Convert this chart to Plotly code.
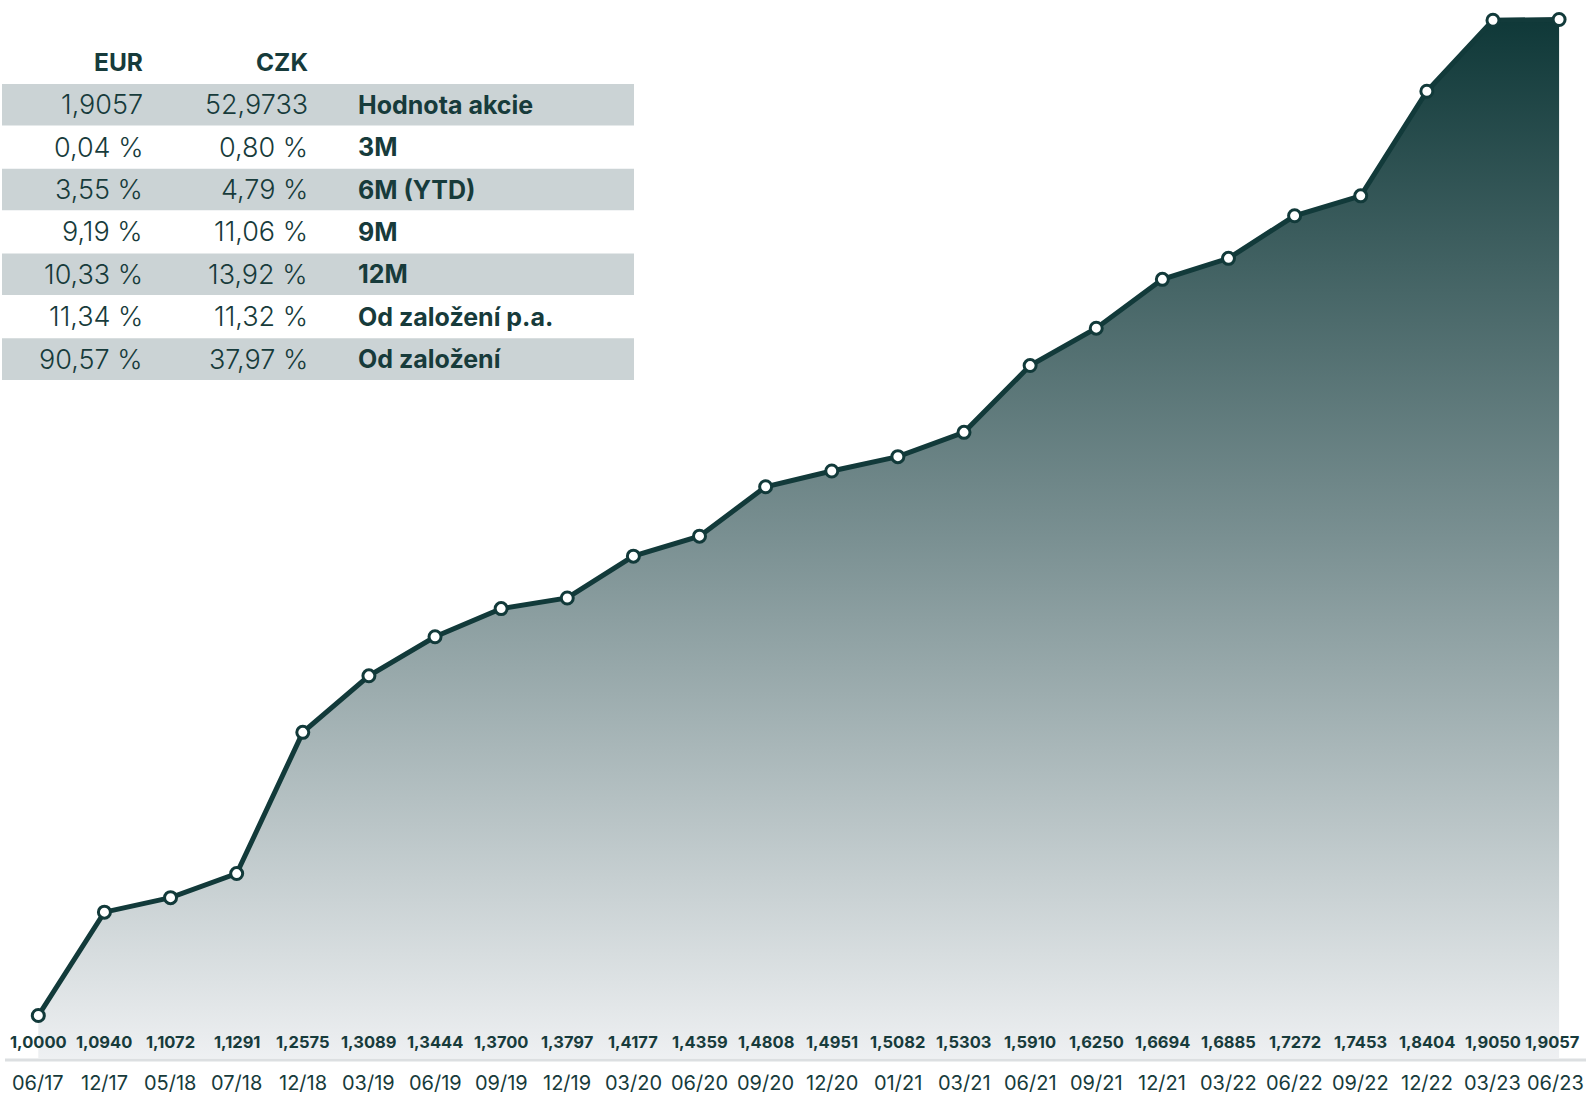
import plotly.graph_objects as go

# ---- data ----
dates = ["06/17", "12/17", "05/18", "07/18", "12/18", "03/19", "06/19", "09/19",
         "12/19", "03/20", "06/20", "09/20", "12/20", "01/21", "03/21", "06/21",
         "09/21", "12/21", "03/22", "06/22", "09/22", "12/22", "03/23", "06/23"]
values = [1.0000, 1.0940, 1.1072, 1.1291, 1.2575, 1.3089, 1.3444, 1.3700,
          1.3797, 1.4177, 1.4359, 1.4808, 1.4951, 1.5082, 1.5303, 1.5910,
          1.6250, 1.6694, 1.6885, 1.7272, 1.7453, 1.8404, 1.9050, 1.9057]

table_header = ["EUR", "CZK", ""]
table_eur = ["1,9057", "0,04 %", "3,55 %", "9,19 %", "10,33 %", "11,34 %", "90,57 %"]
table_czk = ["52,9733", "0,80 %", "4,79 %", "11,06 %", "13,92 %", "11,32 %", "37,97 %"]
table_labels = ["Hodnota akcie", "3M", "6M (YTD)", "9M", "12M",
                "Od založení p.a.", "Od založení"]

# ---- styling ----
W, H = 1586, 1094
MB = 36                      # bottom margin (plot area height = H - MB)
PH = H - MB
DARK = "#123a3a"
TEXT = "#173b3b"
BAND = "#cbd3d5"
FONT = "Inter"

x_idx = list(range(len(values)))
YMAX = 1.9234
YMIN = 0.9614


def py(p):
    """pixel (from top) -> paper y"""
    return (PH - p) / PH


fig = go.Figure()
fig.add_trace(go.Scatter(
    x=x_idx, y=values, mode="lines+markers",
    line=dict(color=DARK, width=5),
    marker=dict(size=12, color="white", line=dict(color=DARK, width=3)),
    fill="tozeroy",
    fillgradient=dict(type="vertical",
                      colorscale=[[0, "#eef0f2"], [0.5, "#7a9092"], [1, "#0f3838"]],
                      start=YMIN, stop=max(values)),
    cliponaxis=False, hoverinfo="skip", showlegend=False,
))

annotations = []
# value labels and date labels
last = len(values) - 1
for i, (d, v) in enumerate(zip(dates, values)):
    annotations.append(dict(x=i, y=py(1041.5), xref="x", yref="paper",
                            text=f"{v:.4f}".replace(".", ","), showarrow=False,
                            xanchor="center", yanchor="middle", xshift=-7 if i == last else 0,
                            font=dict(family=FONT, size=16.5, color=TEXT, weight="bold")))
    annotations.append(dict(x=i, y=py(1094), xref="x", yref="paper", yshift=-3,
                            xshift=-4 if i == last else 0,
                            text=d, showarrow=False, xanchor="center", yanchor="bottom",
                            font=dict(family=FONT, size=20, color=TEXT)))

shapes = []
# axis baseline
shapes.append(dict(type="line", xref="paper", yref="paper",
                   x0=5 / W, x1=1, y0=py(1060), y1=py(1060),
                   line=dict(color="#dcdfe1", width=3), layer="above"))

# table
ROW0 = 104.7
RS = 42.4
col_eur = 145 / W
col_czk = 310 / W
col_lab = 356 / W
hdr_y = py(ROW0 - RS)
for txt, cx in zip(table_header[:2], [col_eur, col_czk]):
    annotations.append(dict(x=cx, y=hdr_y, xref="paper", yref="paper", text=txt,
                            showarrow=False, xanchor="right", yanchor="middle",
                            font=dict(family=FONT, size=24.5, color=TEXT, weight="bold")))
for k, (e, c, lab) in enumerate(zip(table_eur, table_czk, table_labels)):
    cy = ROW0 + RS * k
    if k % 2 == 0:
        shapes.append(dict(type="rect", xref="paper", yref="paper",
                           x0=2 / W, x1=634 / W, y0=py(cy - 20.8), y1=py(cy + 20.8),
                           fillcolor=BAND, line=dict(width=0), layer="below"))
    annotations.append(dict(x=col_eur, y=py(cy), xref="paper", yref="paper", text=e,
                            showarrow=False, xanchor="right", yanchor="middle",
                            font=dict(family=FONT, size=27, color=TEXT, weight=300)))
    annotations.append(dict(x=col_czk, y=py(cy), xref="paper", yref="paper", text=c,
                            showarrow=False, xanchor="right", yanchor="middle",
                            font=dict(family=FONT, size=27, color=TEXT, weight=300)))
    annotations.append(dict(x=col_lab, y=py(cy), xref="paper", yref="paper", text=lab,
                            showarrow=False, xanchor="left", yanchor="middle",
                            font=dict(family=FONT, size=25, color=TEXT, weight="bold")))

fig.update_layout(
    width=W, height=H,
    margin=dict(l=0, r=0, t=0, b=MB, pad=0),
    paper_bgcolor="white", plot_bgcolor="white",
    xaxis=dict(range=[-0.5793, 23.407], visible=False, fixedrange=True),
    yaxis=dict(range=[YMIN, YMAX], visible=False, fixedrange=True),
    annotations=annotations, shapes=shapes,
)

fig.write_html("out.html", config={"displayModeBar": False},
               post_script="document.body.style.margin='0px';document.body.style.overflow='hidden';")
